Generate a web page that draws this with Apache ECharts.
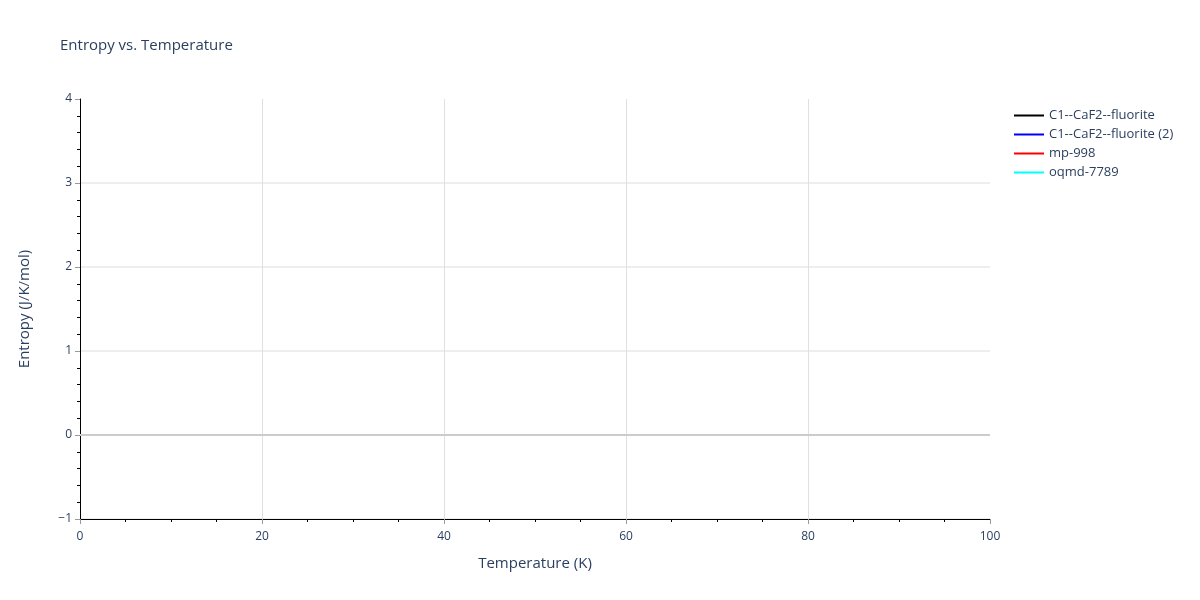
<!DOCTYPE html>
<html>
  <head>
    <meta charset="utf-8">
    <title>Entropy vs. Temperature</title>
    <script src="https://cdn.jsdelivr.net/npm/echarts@6/dist/echarts.min.js"></script>
    <style>
      html, body { margin: 0; padding: 0; background: #fff; }
      #box { width: 1200px; height: 600px; }
    </style>
  </head>
  <body>
    <div id="box"></div>
    <script type="text/javascript">
      // series names / colours and their (empty) data, as in the reference
      var seriesNames = ["C1--CaF2--fluorite", "C1--CaF2--fluorite (2)", "mp-998", "oqmd-7789"];
      var seriesColors = ["#000000", "#0000ff", "#ff0000", "#00ffff"];
      var temps = [];
      var entropy = [[], [], [], []];
      // axis ranges
      var xRange = [0, 100];
      var yRange = [-1, 4];

      var textColor = "#2a3f5f";
      var myChart = echarts.init(document.getElementById("box"), null, { renderer: "canvas" });

      var series = seriesNames.map(function (name, i) {
        var s = {
          name: name,
          type: "line",
          showSymbol: false,
          itemStyle: { color: seriesColors[i] },
          lineStyle: { color: seriesColors[i], width: 2 },
          data: temps.map(function (t, j) { return [t, entropy[i][j]]; }),
        };
        if (i === 0) {
          // zero line
          s.markLine = {
            silent: true,
            symbol: "none",
            label: { show: false },
            lineStyle: { color: "#cccccc", width: 2, type: "solid" },
            data: [{ yAxis: 0 }],
          };
        }
        return s;
      });

      var option = {
        animation: false,
        textStyle: { fontFamily: "Open Sans" },
        title: {
          text: "Entropy vs. Temperature",
          left: 55,
          top: 33,
          textStyle: { color: textColor, fontSize: 15, fontWeight: "normal", fontFamily: "Open Sans" },
        },
        legend: {
          orient: "vertical",
          left: 1009,
          top: 104,
          itemGap: 6,
          itemWidth: 30,
          itemHeight: 2,
          icon: "rect",
          textStyle: { color: textColor, fontSize: 13, fontFamily: "Open Sans" },
          data: seriesNames,
        },
        grid: { left: 80, right: 210, top: 99, bottom: 81, containLabel: false },
        xAxis: {
          type: "value",
          min: xRange[0],
          max: xRange[1],
          interval: 20,
          name: "Temperature (K)",
          nameLocation: "middle",
          nameGap: 37,
          nameTextStyle: { color: textColor, fontSize: 15, fontFamily: "Open Sans" },
          axisLine: { show: true, onZero: false, lineStyle: { color: "#000", width: 1 } },
          axisTick: { show: true, length: 5, lineStyle: { color: "#999" } },
          minorTick: { show: true, splitNumber: 4, length: 3, lineStyle: { color: "#000" } },
          axisLabel: { color: textColor, fontSize: 12, margin: 12 },
          splitLine: {
            show: true,
            lineStyle: { color: ["#e0e0e0", "#e0e0e0", "#e0e0e0", "#e0e0e0", "#e0e0e0", "rgba(0,0,0,0)"], width: 1 },
          },
        },
        yAxis: {
          type: "value",
          min: yRange[0],
          max: yRange[1],
          interval: 1,
          name: "Entropy (J/K/mol)",
          nameLocation: "middle",
          nameGap: 48,
          nameTextStyle: { color: textColor, fontSize: 15, fontFamily: "Open Sans" },
          axisLine: { show: true, lineStyle: { color: "#000", width: 1 } },
          axisTick: { show: true, length: 5, lineStyle: { color: "#999" } },
          minorTick: { show: true, splitNumber: 5, length: 3, lineStyle: { color: "#000" } },
          axisLabel: {
            color: textColor,
            fontSize: 12,
            margin: 8,
            formatter: function (v) { return v < 0 ? "\u2212" + Math.abs(v) : String(v); },
          },
          splitLine: {
            show: true,
            lineStyle: { color: ["#eeeeee", "#eeeeee", "#eeeeee", "#eeeeee", "#eeeeee", "rgba(0,0,0,0)"], width: 2 },
          },
        },
        series: series,
      };

      myChart.setOption(option);
      window.addEventListener("resize", myChart.resize);
    </script>
  </body>
</html>
